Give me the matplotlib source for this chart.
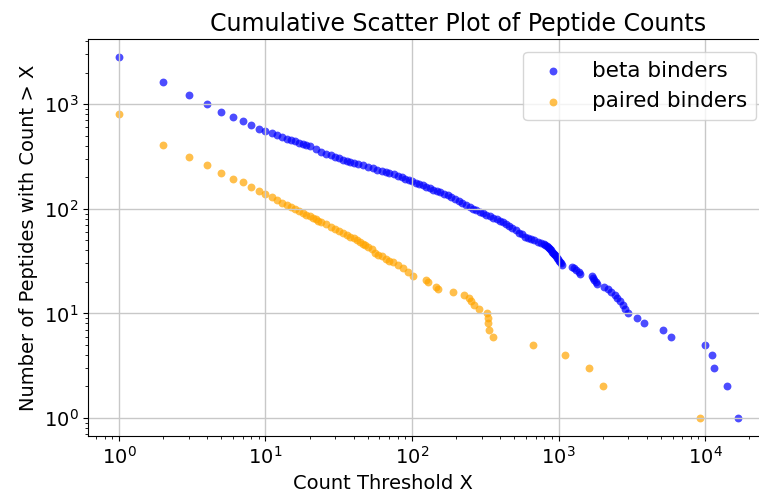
import numpy as np
import matplotlib
matplotlib.use("Agg")
import matplotlib.pyplot as plt

# beta binders: count threshold vs number of peptides with count > X
beta_x = [1, 2, 3, 4, 5, 6, 7, 8, 9,
          10, 11, 12, 13, 14, 15, 16, 17, 18, 19, 20, 22, 24, 26, 28, 30,
          32, 34, 36, 38, 40, 43, 46, 50, 54, 58, 62, 66, 70, 75, 80, 85,
          90, 95, 100, 106, 112, 118, 125, 132, 140, 148, 156, 165, 175,
          185, 196, 208, 220, 233, 247, 260, 275, 290, 306, 322, 340, 358,
          378, 400, 420, 440, 462, 485, 510, 535, 560, 590, 620, 650, 680,
          720, 760, 790, 810, 830, 850, 865, 880, 895, 905, 915, 930, 945,
          960, 975, 990, 1005, 1020, 1035, 1060, 1240, 1280, 1320, 1370,
          1410, 1700, 1730, 1750, 1790, 1820, 2040, 2170, 2280, 2420, 2500,
          2630, 2760, 2850, 2990, 3430, 3840, 5200, 5870, 10000, 11200,
          11550, 14200, 16800]
beta_y = [2820, 1640, 1230, 1000, 850, 757, 683, 625, 582,
          548, 527, 505, 485, 464, 452, 440, 428, 415, 404, 394, 373, 352,
          337, 324, 313, 303, 294, 287, 281, 276, 268, 260, 251, 243, 236,
          230, 225, 220, 213, 206, 200, 194, 188, 183, 177, 172, 167, 162,
          157, 152, 147, 143, 139, 134, 129, 124, 119, 114, 109, 105, 100,
          97, 94, 91, 88, 85, 82, 79, 77, 74, 71, 68, 65, 62, 59, 57, 54,
          52, 51, 50, 48, 47, 46, 45, 44, 43, 42, 41, 40, 39, 38, 37, 36,
          35, 34, 33, 32, 31, 30, 29, 28, 27, 26, 25, 24, 23, 22, 21, 20,
          19, 18, 17, 16, 15, 14, 13, 12, 11, 10, 9, 8, 7, 6, 5, 4, 3, 2, 1]

# paired binders
paired_x = [1, 2, 3, 4, 5, 6, 7, 8, 9, 10, 11, 12, 13, 14, 15, 16, 17, 18,
            19, 20, 21, 22, 23, 24, 26, 28, 30, 32, 34, 36, 38, 40, 42, 44,
            46, 48, 50, 53, 56, 59, 62, 66, 70, 74, 80, 87, 94, 102, 125,
            129, 145, 150, 190, 227, 245, 252, 265, 285, 325, 328, 330, 333,
            357, 671, 1105, 1614, 2010, 9290]
paired_y = [803, 410, 315, 260, 222, 193, 179, 161, 147, 137, 129, 121, 114,
            108, 104, 100, 96, 92, 88, 85, 82, 80, 77, 75, 71, 67, 64, 61, 58,
            56, 54, 52, 50, 48, 46, 45, 43, 41, 38, 36, 35, 33, 32, 31, 29,
            27, 25, 23, 21, 20, 18, 17, 16, 15, 14, 13, 12, 11, 10, 9, 8, 7,
            6, 5, 4, 3, 2, 1]

fig = plt.figure(figsize=(7.59, 4.92), dpi=100)
ax = fig.add_axes([88 / 759, 56 / 492, 681 / 759, 397 / 492])

ax.scatter(beta_x, beta_y, s=32, color="blue", alpha=0.7, linewidths=0,
           label="beta binders")
ax.scatter(paired_x, paired_y, s=32, color="orange", alpha=0.7, linewidths=0,
           label="paired binders")
ax.set_xscale("log")
ax.set_yscale("log")

ax.set_title("Cumulative Scatter Plot of Peptide Counts", fontsize=17, x=0.543)
ax.set_xlabel("Count Threshold X", fontsize=14)
ax.xaxis.set_label_coords(0.433, -0.095)
ax.set_ylabel("Number of Peptides with Count > X", fontsize=14)
ax.tick_params(axis="both", which="major", labelsize=14)
ax.grid(True, which="major", color="#c8c8c8", linewidth=1.0)
ax.legend(loc="upper right", fontsize=15.5, borderaxespad=0.6)

fig.savefig("out.png", dpi=100)
